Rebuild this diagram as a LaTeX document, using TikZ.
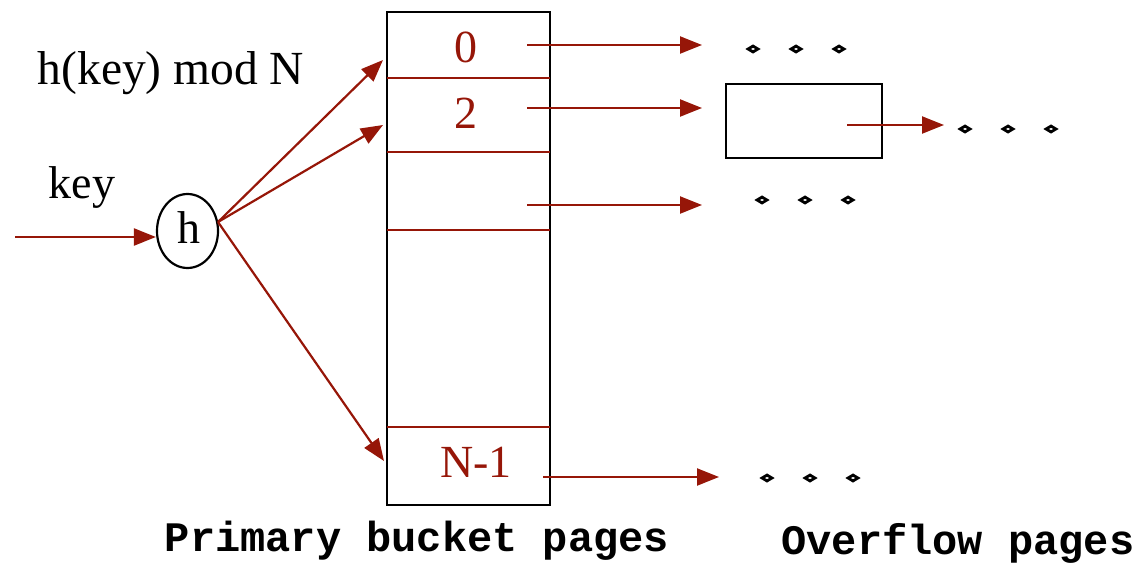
\documentclass[tikz,border=0pt]{standalone}
\usepackage{fontspec}
\setmainfont{Liberation Serif}
\setmonofont{Liberation Mono}
\usetikzlibrary{arrows.meta,shapes.geometric}
\definecolor{dred}{RGB}{150,22,8}
\tikzset{
  arr/.style={draw=dred,line width=2.2pt,-{Triangle[length=22pt,width=17pt]}},
  sep/.style={draw=dred,line width=2.2pt},
  lbl/.style={text=dred,font=\fontsize{46}{46}\selectfont,inner sep=0pt},
  txt/.style={font=\fontsize{46}{46}\selectfont,inner sep=0pt},
  captxt/.style={font=\ttfamily\bfseries\fontsize{42}{42}\selectfont,inner sep=0pt},
  dotm/.style={diamond,draw=black,line width=2.8pt,minimum width=11pt,minimum height=7pt,inner sep=0pt,aspect=1.6},
}
\newcommand{\threedots}[3]{%
  \node[dotm] (#1a) at (#2,#3) {};
  \node[dotm] (#1b) at (#2+43,#3) {};
  \node[dotm] (#1c) at (#2+86,#3) {};}
\begin{document}
\begin{tikzpicture}[x=1pt,y=-1pt]
\useasboundingbox (0,0) rectangle (1142,562);
% bucket array
\node[draw=black,line width=2.2pt,minimum width=163pt,minimum height=493pt,inner sep=0pt] (arr) at (468.5,258.5) {};
\coordinate (l1a) at (387,78); \coordinate (l1b) at (550,78);
\coordinate (l2a) at (387,152); \coordinate (l2b) at (550,152);
\coordinate (l3a) at (387,230); \coordinate (l3b) at (550,230);
\coordinate (l4a) at (387,427); \coordinate (l4b) at (550,427);
\draw[sep] (l1a) -- (l1b);
\draw[sep] (l2a) -- (l2b);
\draw[sep] (l3a) -- (l3b);
\draw[sep] (l4a) -- (l4b);
\node[lbl] (b0) at (466,47) {0};
\node[lbl] (b2) at (466,113) {2};
\node[lbl] (bn) at (476,462) {N-1};
% hash function
\node[ellipse,draw=black,line width=2.2pt,minimum width=61pt,minimum height=74pt,inner sep=0pt] (h) at (187.5,231) {};
\node[txt] (ht) at (189,228) {h};
\node[txt] (key) at (82,188) {key};
\node[txt,font=\fontsize{47.5}{47.5}\selectfont] (hk) at (171,73) {h(key) mod N};
\coordinate (in) at (15,237);
\draw[arr] (in) -- (h.west |- in);
\coordinate (hp) at (218,222);
\coordinate (t0) at (383,60);
\coordinate (t2) at (383,125);
\coordinate (tn) at (384,461);
\draw[arr] (hp) -- (t0);
\draw[arr] (hp) -- (t2);
\draw[arr] (hp) -- (tn);
% overflow
\node[draw=black,line width=2.2pt,minimum width=156pt,minimum height=74pt,inner sep=0pt] (ov) at (804,121) {};
\coordinate (s0) at (527,45); \coordinate (e0) at (702,45);
\coordinate (s2) at (527,108); \coordinate (e2) at (702,108);
\coordinate (s3) at (527,205); \coordinate (e3) at (702,205);
\coordinate (sn) at (543,477); \coordinate (en) at (719,477);
\coordinate (so) at (847,125); \coordinate (eo) at (944,125);
\draw[arr] (s0) -- (e0);
\draw[arr] (s2) -- (e2);
\draw[arr] (s3) -- (e3);
\draw[arr] (sn) -- (en);
\draw[arr] (so) -- (eo);
\threedots{d0}{753}{49}
\threedots{d3}{762}{200}
\threedots{dn}{767}{478}
\threedots{dov}{965}{129}
\node[captxt] (c1) at (417,541) {Primary bucket pages};
\node[captxt] (c2) at (958,543) {Overflow pages};
\end{tikzpicture}
\end{document}
